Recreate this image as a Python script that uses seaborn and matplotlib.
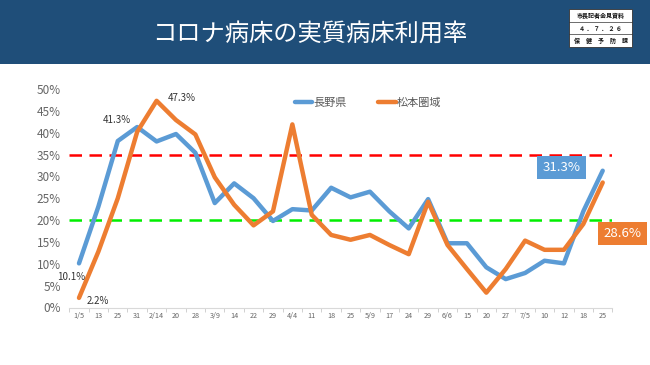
import matplotlib
matplotlib.use("Agg")
import matplotlib.pyplot as plt
import seaborn as sns
import pandas as pd
import numpy as np
from matplotlib.patches import Rectangle
from matplotlib.ticker import PercentFormatter

dates = ["1/5", "13", "25", "31", "2/14", "20", "28", "3/9", "14", "22", "29", "4/4", "11",
         "18", "25", "5/9", "17", "24", "29", "6/6", "15", "20", "27", "7/5", "10", "12", "18", "25"]
nagano = [10.1, 23.1, 38.1, 41.3, 38.0, 39.7, 35.4, 23.9, 28.4, 25.0, 19.8, 22.5, 22.2,
          27.4, 25.2, 26.5, 22.0, 18.1, 24.8, 14.7, 14.7, 9.2, 6.5, 7.9, 10.7, 10.1, 22.0, 31.3]
matsumoto = [2.2, 12.8, 25.0, 40.2, 47.3, 42.9, 39.6, 29.8, 23.5, 18.8, 22.0, 41.9, 21.2,
             16.6, 15.5, 16.6, 14.3, 12.2, 24.2, 14.3, 8.8, 3.4, 8.8, 15.3, 13.2, 13.2, 19.1, 28.6]
series_names = ["長野県", "松本圏域"]
ref_red = 35
ref_green = 20
title = "コロナ病床の実質病床利用率"
badge_rows = ["市長記者会見資料", "４ ． ７ ． ２ ６", "保　健　予　防　課"]

sns.set_theme(style="white")
plt.rcParams["font.family"] = ["Noto Sans CJK JP", "DejaVu Sans"]

BLUE = "#5B9BD5"
ORANGE = "#ED7D31"

df = pd.DataFrame({
    "idx": list(range(len(dates))) * 2,
    "rate": nagano + matsumoto,
    "series": [series_names[0]] * len(dates) + [series_names[1]] * len(dates),
})

fig = plt.figure(figsize=(6.5, 3.65), dpi=100)
fig.patch.set_facecolor("white")
ax = fig.add_axes([69.3 / 650, 1 - 307.5 / 365, (612.4 - 69.3) / 650, (307.5 - 89) / 365])

# header
fig.patches.append(Rectangle((0, 1 - 64 / 365), 1, 64 / 365, transform=fig.transFigure,
                             facecolor="#1F4E79", edgecolor="none", zorder=-5))
fig.text(310 / 650, 1 - 34 / 365, title, color="white", fontsize=17.5,
         ha="center", va="center")
bx0, bx1 = 569 / 650, 632 / 650
by_top, by_bot = 1 - 9.5 / 365, 1 - 46.5 / 365
fig.patches.append(Rectangle((bx0, by_bot), bx1 - bx0, by_top - by_bot, transform=fig.transFigure,
                             facecolor="white", edgecolor="#333333", lw=0.6, zorder=2))
rh = (by_top - by_bot) / 3
for k in (1, 2):
    fig.add_artist(plt.Line2D([bx0, bx1], [by_top - k * rh] * 2, transform=fig.transFigure,
                              color="#333333", lw=0.5, zorder=3))
for k, t in enumerate(badge_rows):
    fig.text((bx0 + bx1) / 2, by_top - (k + 0.5) * rh, t, fontsize=4.3, ha="center",
             va="center", color="#111111", zorder=4, fontweight="bold")

sns.lineplot(data=df, x="idx", y="rate", hue="series", palette=[BLUE, ORANGE],
             linewidth=3.2, ax=ax, legend=True, zorder=3)

ax.axhline(ref_red, color="#FF0000", lw=1.8, ls=(0, (5, 3)), zorder=2)
ax.axhline(ref_green, color="#00EE00", lw=1.8, ls=(0, (5, 3)), zorder=2)

ax.set_xlim(-0.5, len(dates) - 0.5)
ax.set_ylim(0, 50)
ax.set_yticks(np.arange(0, 51, 5))
ax.yaxis.set_major_formatter(PercentFormatter(decimals=0))
ax.set_xticks(range(len(dates)))
ax.set_xticklabels(dates)
ax.set_xticks(np.arange(-0.5, len(dates), 1), minor=True)
ax.tick_params(axis="x", which="major", length=0, labelsize=5.2, labelcolor="#666666", pad=3)
ax.tick_params(axis="x", which="minor", length=3, color="#D0D0D0", width=0.7, bottom=True)
ax.tick_params(axis="y", length=0, labelsize=8.5, labelcolor="#666666", pad=6)
ax.set_xlabel("")
ax.set_ylabel("")
for s in ("top", "right", "left"):
    ax.spines[s].set_visible(False)
ax.spines["bottom"].set_color("#D9D9D9")
ax.spines["bottom"].set_linewidth(0.8)
ax.set_facecolor("white")

# data labels
lab_kw = dict(textcoords="offset pixels", ha="center", va="center", fontsize=7, color="#333333")
ax.annotate(f"{matsumoto[4]}%", (4, matsumoto[4]), xytext=(25, 3), **lab_kw)
ax.annotate(f"{nagano[3]}%", (3, nagano[3]), xytext=(-20, 7), **lab_kw)
ax.annotate(f"{nagano[0]}%", (0, nagano[0]), xytext=(-8, -14), **lab_kw)
ax.annotate(f"{matsumoto[0]}%", (0, matsumoto[0]), xytext=(19, -3), **lab_kw)

last = len(dates) - 1
ax.annotate(f"{nagano[last]}%", (last, nagano[last]), xytext=(-41, 3), textcoords="offset pixels",
            ha="center", va="center", fontsize=9.5, color="white", annotation_clip=False,
            bbox=dict(boxstyle="square,pad=0.4", facecolor=BLUE, edgecolor="none"))
ax.annotate(f"{matsumoto[last]}%", (last, matsumoto[last]), xytext=(20, -51), textcoords="offset pixels",
            ha="center", va="center", fontsize=9.5, color="white", annotation_clip=False,
            bbox=dict(boxstyle="square,pad=0.4", facecolor=ORANGE, edgecolor="none"))

leg = ax.legend(loc="center", bbox_to_anchor=(368 / 650, 1 - 103 / 365),
                bbox_transform=fig.transFigure, ncol=2, frameon=False, fontsize=8,
                handlelength=1.6, handletextpad=0.1, columnspacing=2.8)
for t in leg.get_texts():
    t.set_color("#595959")
for h in leg.get_lines():
    h.set_linewidth(3.2)

fig.savefig("out.png", dpi=100, facecolor="white")
